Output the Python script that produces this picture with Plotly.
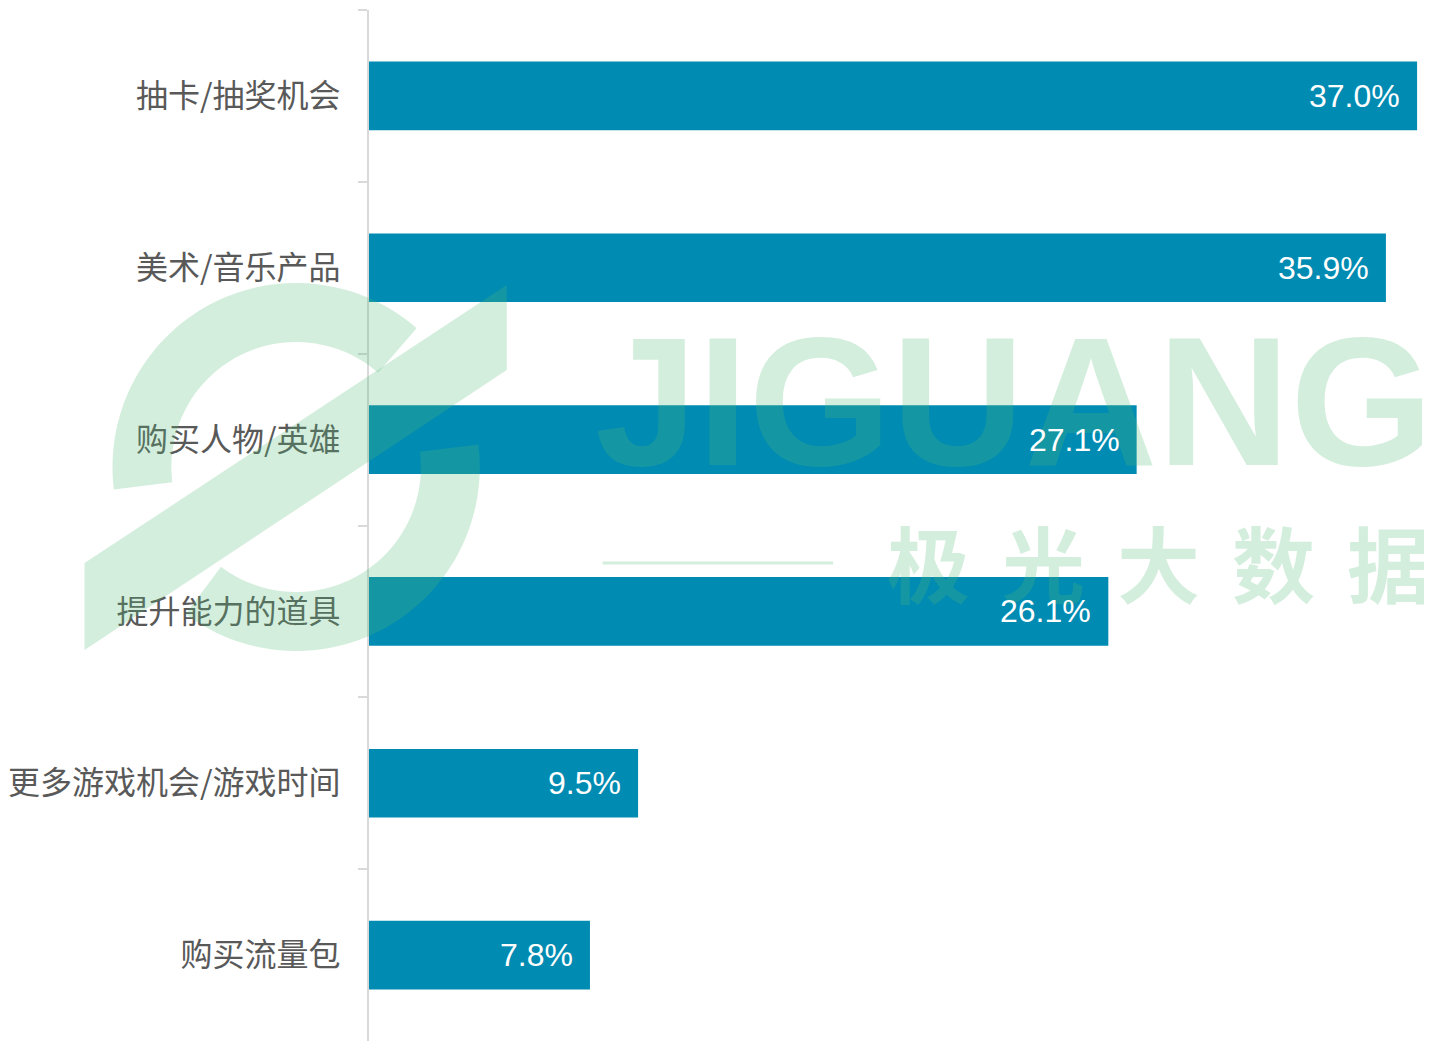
import numpy as np
import plotly.graph_objects as go

categories = ["抽卡/抽奖机会", "美术/音乐产品", "购买人物/英雄", "提升能力的道具", "更多游戏机会/游戏时间", "购买流量包"]
values = [37.0, 35.9, 27.1, 26.1, 9.5, 7.8]
value_labels = ["37.0%", "35.9%", "27.1%", "26.1%", "9.5%", "7.8%"]

OFF = 8  # page body margin
W, H = 1424, 1033
ML, MR, MT, MB = 359, 0, 2, 0
PW, PH = W - ML - MR, H - MT - MB

def px(x):
    return (x - OFF - ML) / PW

def py(y):
    return (OFF + H - MB - y) / PH

BAR = "#008BB2"
WM = "rgba(83,187,119,0.25)"

fig = go.Figure()
fig.add_trace(go.Bar(
    x=values, y=categories, orientation="h",
    marker=dict(color=BAR, line=dict(width=0)),
    hoverinfo="skip",
))

annotations = []

def poly_path(pts):
    return "M " + " L ".join(f"{px(a):.5f},{py(b):.5f}" for a, b in pts) + " Z"

cx, cy, R, r = 294, 467, 184, 125
def arc_pts(a0, a1, n=60):
    t = np.radians(np.linspace(a0, a1, n))
    outer = [(cx + R * np.cos(a), cy - R * np.sin(a)) for a in t]
    inner = [(cx + r * np.cos(a), cy - r * np.sin(a)) for a in t[::-1]]
    return outer + inner

shapes = []
for pts in [arc_pts(49, 187), arc_pts(7, -127),
            [(82, 563), (82, 650), (505, 370), (505, 285)]]:
    shapes.append(dict(type="path", path=poly_path(pts), xref="paper", yref="paper",
                       fillcolor=WM, line=dict(width=0), layer="above"))
shapes.append(dict(type="line", xref="paper", yref="paper", x0=px(601), x1=px(832),
                   y0=py(563), y1=py(563), line=dict(color=WM, width=3), layer="above"))

annotations.append(dict(text="<b>JIGUANG</b>", xref="paper", yref="paper", x=px(1013), y=py(401),
                        xanchor="center", yanchor="middle", showarrow=False,
                        font=dict(family="Liberation Sans", size=184, color=WM)))
for i, ch in enumerate("极光大数据"):
    annotations.append(dict(text=f"<b>{ch}</b>", xref="paper", yref="paper", x=px(928 + 115 * i), y=py(561),
                            xanchor="center", yanchor="middle", showarrow=False,
                            font=dict(family="Noto Sans CJK SC", size=83, color=WM)))

for v, lab, c in zip(values, value_labels, categories):
    annotations.append(dict(text=lab, x=v, y=c, xref="x", yref="y", xanchor="right", yanchor="middle",
                            xshift=-15, showarrow=False,
                            font=dict(family="Liberation Sans", size=32, color="white")))

fig.update_layout(
    width=W, height=H,
    margin=dict(l=ML, r=MR, t=MT, b=MB, pad=0),
    paper_bgcolor="white", plot_bgcolor="white",
    bargap=0.6, showlegend=False,
    shapes=shapes, annotations=annotations,
    xaxis=dict(range=[0, PW / 28.38], visible=False, fixedrange=True),
    yaxis=dict(autorange="reversed", showline=True, linecolor="#D9D9D9", linewidth=2,
               ticks="outside", ticklen=9, tickcolor="#D9D9D9", tickwidth=2,
               tickson="boundaries", ticklabelstandoff=20, showgrid=False,
               tickfont=dict(family="Noto Sans CJK SC", size=32, color="#595959")),
)

fig.write_html("out.html")
